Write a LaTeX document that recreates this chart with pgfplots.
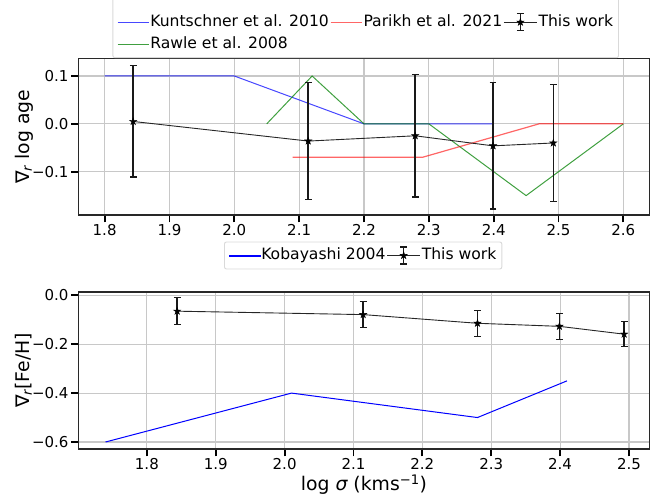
\documentclass[border=0pt]{standalone}
\usepackage{fontspec}
\setmainfont{DejaVu Sans}
\usepackage{pgfplots}
\pgfplotsset{compat=1.18}
\usepackage{pgfplotstable}

% filled five-pointed star, like a matplotlib '*' marker
\pgfdeclareplotmark{fstar}{%
  \pgfpathmoveto{\pgfpointpolar{90}{\pgfplotmarksize}}%
  \pgfpathlineto{\pgfpointpolar{126}{0.382\pgfplotmarksize}}%
  \pgfpathlineto{\pgfpointpolar{162}{\pgfplotmarksize}}%
  \pgfpathlineto{\pgfpointpolar{198}{0.382\pgfplotmarksize}}%
  \pgfpathlineto{\pgfpointpolar{234}{\pgfplotmarksize}}%
  \pgfpathlineto{\pgfpointpolar{270}{0.382\pgfplotmarksize}}%
  \pgfpathlineto{\pgfpointpolar{306}{\pgfplotmarksize}}%
  \pgfpathlineto{\pgfpointpolar{342}{0.382\pgfplotmarksize}}%
  \pgfpathlineto{\pgfpointpolar{18}{\pgfplotmarksize}}%
  \pgfpathlineto{\pgfpointpolar{54}{0.382\pgfplotmarksize}}%
  \pgfpathclose
  \pgfusepathqfillstroke}

\definecolor{gridgray}{RGB}{200,200,200}
\definecolor{mplgreen}{RGB}{0,128,0}
\definecolor{mplblue}{RGB}{0,0,255}
\definecolor{spine}{RGB}{40,40,40}

% age gradients
\pgfplotstableread{
x     y
1.80  0.10
2.00  0.10
2.20  0.00
2.40  0.00
}\kuntschner
\pgfplotstableread{
x     y
2.05  0.00
2.12  0.10
2.20  0.00
2.30  0.00
2.45  -0.15
2.60  0.00
}\rawle
\pgfplotstableread{
x     y
2.09  -0.07
2.29  -0.07
2.47  0.00
2.60  0.00
}\parikh
\pgfplotstableread{
x      y       e
1.844  0.005   0.116
2.114  -0.036  0.123
2.279  -0.025  0.128
2.399  -0.046  0.132
2.492  -0.040  0.123
}\ageours

% metallicity gradients
\pgfplotstableread{
x     y
1.74  -0.60
2.01  -0.40
2.28  -0.50
2.41  -0.35
}\kobayashi
\pgfplotstableread{
x      y        e
1.844  -0.065   0.055
2.114  -0.079   0.054
2.280  -0.1145  0.054
2.399  -0.127   0.052
2.493  -0.159   0.052
}\fehours

\pgfplotsset{
  panel/.style={
    scale only axis,
    width=570.6pt,
    anchor=south west,
    axis line style={line width=1.2pt, spine},
    grid=major,
    major grid style={gridgray, line width=1.1pt},
    tick align=outside,
    xtick pos=bottom, ytick pos=left,
    major tick length=7.5pt,
    major tick style={line width=1.8pt, black},
    xticklabel style={font=\fontsize{15}{18}\selectfont, inner sep=1.5pt},
    yticklabel style={font=\fontsize{15}{18}\selectfont, inner sep=2.5pt},
    label style={font=\fontsize{18.8}{22}\selectfont},
    legend cell align=left,
  },
  ourwork/.style={black!85, line width=0.9pt, mark=fstar, mark size=3.8pt,
    mark options={solid, fill=black, draw=black, line width=0.4pt}},
  ourerr/.style={error bars/.cd, y dir=both, y explicit,
    error bar style={line width=1.6pt, black!90},
    error mark options={rotate=90, mark size=3.4pt, line width=1.1pt, black!90}},
  legours/.style={legend image code/.code={
    \draw[black!85, line width=0.9pt] (0pt,0pt) -- (33pt,0pt);
    \draw[black!90, line width=1.6pt] (16.5pt,-8.5pt) -- (16.5pt,8.5pt);
    \draw[black!90, line width=1.1pt] (13.1pt,-8.5pt) -- (19.9pt,-8.5pt)
                                      (13.1pt,8.5pt) -- (19.9pt,8.5pt);
    \draw[black, fill=black, line width=0.4pt, mark=fstar, mark size=3.8pt]
      plot coordinates {(16.5pt,0pt)};}},
  legbox/.style={
    font=\fontsize{15.6}{18}\selectfont,
    fill=white, column sep=0pt, row sep=5pt,
    inner xsep=4pt, inner ysep=4pt,
    nodes={inner xsep=1.2pt, inner ysep=1pt, text height=11.5pt, text depth=3.5pt},
  },
}

\begin{document}
\begin{tikzpicture}

% upper panel: age gradient
\begin{axis}[panel,
  at={(78.7pt,279pt)}, height=156.7pt,
  xmin=1.76, xmax=2.64, ymin=-0.1905, ymax=0.137,
  xtick={1.8,1.9,2.0,2.1,2.2,2.3,2.4,2.5,2.6},
  xticklabels={1.8,1.9,2.0,2.1,2.2,2.3,2.4,2.5,2.6},
  ytick={-0.1,0,0.1},
  yticklabels={−0.1,0.0,0.1},
  ylabel={∇\textsubscript{\itshape r} log age},
  ylabel style={at={(axis description cs:-0.0959,0.5)}, anchor=center},
  legend columns=3,
  legend style={legbox, draw=none, at={(0.503,1)}, anchor=south,
    yshift=0.6pt, name=toplegend},
]
\addplot[mplblue, opacity=0.72, line width=1pt, forget plot] table[x=x, y=y] {\kuntschner};
\addplot[mplgreen, opacity=0.75, line width=1pt, forget plot] table[x=x, y=y] {\rawle};
\addplot[red, opacity=0.6, line width=1.2pt, forget plot] table[x=x, y=y] {\parikh};
\addplot[ourwork, forget plot, ourerr] table[x=x, y=y, y error=e] {\ageours};

\addlegendimage{legend image code/.code={
  \draw[draw=mplblue, opacity=0.72, line width=1pt] (0pt,0pt) -- (31pt,0pt);}}
\addlegendentry{Kuntschner et al. 2010}
\addlegendimage{legend image code/.code={
  \draw[draw=red, opacity=0.6, line width=1.2pt] (0pt,0pt) -- (31pt,0pt);}}
\addlegendentry{Parikh et al. 2021}
\addlegendimage{legours}
\addlegendentry{This work}
\addlegendimage{legend image code/.code={
  \draw[draw=mplgreen, opacity=0.75, line width=1pt] (0pt,0pt) -- (31pt,0pt);}}
\addlegendentry{Rawle et al. 2008}
\end{axis}

% legend frame, open at the top edge
\draw[gray!30, line width=0.9pt, rounded corners=2pt]
  ([yshift=40pt]toplegend.north west) -- (toplegend.south west)
  -- (toplegend.south east) -- ([yshift=40pt]toplegend.north east);

% lower panel: metallicity gradient
\begin{axis}[panel,
  at={(78.7pt,45pt)}, height=157pt,
  xmin=1.701, xmax=2.5295, ymin=-0.6286, ymax=0.0135,
  xtick={1.8,1.9,2.0,2.1,2.2,2.3,2.4,2.5},
  xticklabels={1.8,1.9,2.0,2.1,2.2,2.3,2.4,2.5},
  ytick={-0.6,-0.4,-0.2,0},
  yticklabels={−0.6,−0.4,−0.2,0.0},
  ylabel={∇\textsubscript{\itshape r}[Fe/H]},
  ylabel style={at={(axis description cs:-0.0968,0.5)}, anchor=center},
  xlabel={log {\itshape σ} (kms\textsuperscript{−1})},
  xlabel style={at={(axis description cs:0.5,-0.2268)}, anchor=center},
  legend columns=2,
  legend style={legbox, draw=none, at={(0.4985,1)}, anchor=south,
    yshift=23pt, name=botlegend},
]
\addplot[mplblue, line width=1pt, forget plot] table[x=x, y=y] {\kobayashi};
\addplot[ourwork, forget plot, ourerr] table[x=x, y=y, y error=e] {\fehours};

\addlegendimage{legend image code/.code={
  \fill[mplblue] (0pt,-0.45pt) rectangle (31pt,0.45pt);}}
\addlegendentry{Kobayashi 2004}
\addlegendimage{legours}
\addlegendentry{This work}
\end{axis}

\draw[gray!30, line width=0.9pt, rounded corners=2pt]
  (botlegend.south west) rectangle (botlegend.north east);

\pgfresetboundingbox
\path[use as bounding box] (0pt,0pt) rectangle (657pt,494pt);
\end{tikzpicture}
\end{document}
